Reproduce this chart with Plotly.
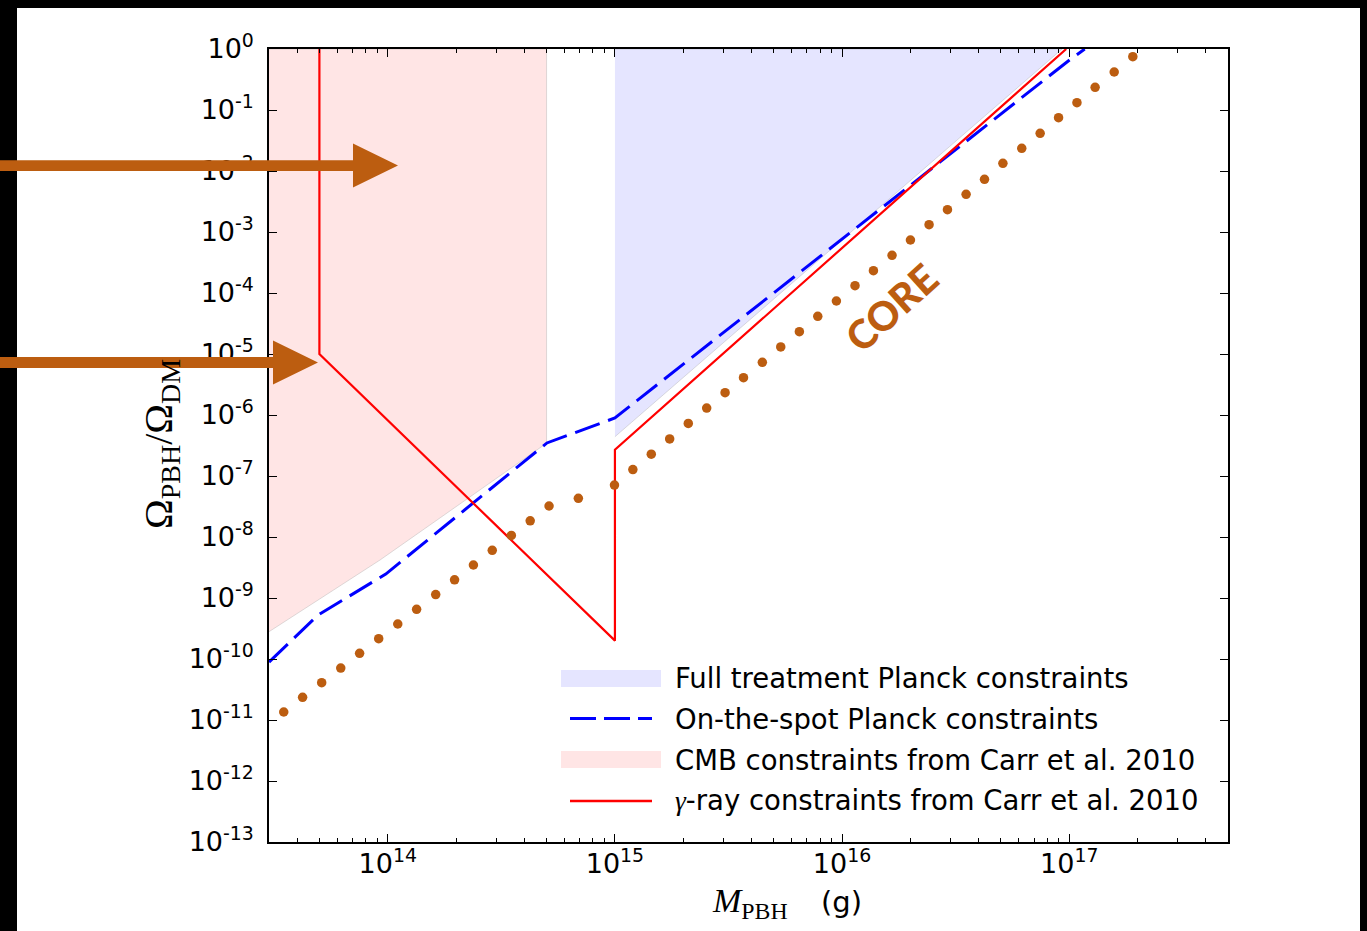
import plotly.graph_objects as go

# ---------------- data ----------------
# CMB constraints (Carr et al. 2010) - filled region (lower boundary, then top)
cmb_mass = [3.0e13, 9.25e13, 5.0e14, 5.0e14, 3.0e13]
cmb_omega = [2.8e-10, 4.2e-9, 3.45e-7, 1.0, 1.0]

# Full treatment Planck constraints - filled region
full_mass = [1.0e15, 9.3e16, 1.0e15]
full_omega = [4.4e-7, 1.0, 1.0]

# On-the-spot Planck constraints (dashed)
otsp_mass = [3.0e13, 4.93e13, 9.8e13, 5.02e14, 1.0e15, 9.9e16, 1.17e17]
otsp_omega = [8.9e-11, 5.26e-10, 2.47e-9, 3.48e-7, 8.93e-7, 0.636, 1.0]

# gamma-ray constraints (Carr et al. 2010)
gamma_mass = [5.0e13, 5.0e13, 1.0e15, 1.0e15, 9.7e16]
gamma_omega = [1.0, 1.0e-5, 2.0e-10, 2.7e-7, 1.0]

# CORE forecast (dotted), log10 values
core_log_mass = [13.542, 13.625, 13.709, 13.793, 13.876, 13.960, 14.044, 14.127,
                 14.211, 14.294, 14.377, 14.460, 14.544, 14.627, 14.710, 14.839,
                 14.998, 15.079, 15.160, 15.241, 15.323, 15.404, 15.485, 15.566,
                 15.649, 15.730, 15.812, 15.893, 15.975, 16.057, 16.138, 16.220,
                 16.301, 16.383, 16.464, 16.546, 16.627, 16.708, 16.791, 16.872,
                 16.953, 17.034, 17.114, 17.198, 17.280]
core_log_omega = [-10.869, -10.628, -10.389, -10.148, -9.907, -9.667, -9.426, -9.185,
                  -8.943, -8.702, -8.459, -8.218, -7.975, -7.734, -7.492, -7.366,
                  -7.148, -6.895, -6.643, -6.392, -6.139, -5.887, -5.634, -5.389,
                  -5.136, -4.885, -4.634, -4.382, -4.131, -3.880, -3.634, -3.382,
                  -3.131, -2.880, -2.634, -2.382, -2.136, -1.874, -1.628, -1.382,
                  -1.126, -0.880, -0.628, -0.377, -0.126]
core_mass = [10 ** v for v in core_log_mass]
core_omega = [10 ** v for v in core_log_omega]

x_tick_vals = [1e14, 1e15, 1e16, 1e17]
x_tick_text = ["10<sup>14</sup>", "10<sup>15</sup>", "10<sup>16</sup>", "10<sup>17</sup>"]
y_exponents = [0, -1, -2, -3, -4, -5, -6, -7, -8, -9, -10, -11, -12, -13]
y_tick_vals = [10.0 ** e for e in y_exponents]
y_tick_text = ["10<sup>%d</sup>" % e for e in y_exponents]

legend_labels = [
    "Full treatment Planck constraints",
    "On-the-spot Planck constraints",
    "CMB constraints from Carr et al. 2010",
    '<span style="font-family:Liberation Serif"><i>γ</i></span>-ray constraints from Carr et al. 2010',
]

# ---------------- styling / layout ----------------
W, H = 1367, 931
ML, MR, MT, MB = 269, 139, 49, 89
PW, PH = W - ML - MR, H - MT - MB

def xp(p):
    return (p - ML) / PW

def yp(p):
    return (H - MB - p) / PH

ORANGE = "#BC5D10"
BLUE_FILL = "rgba(0,0,255,0.10)"
RED_FILL = "rgba(255,0,0,0.10)"
EDGE = "rgba(160,160,160,0.35)"
TICK_FONT = dict(family="DejaVu Sans", size=27, color="black")

fig = go.Figure()
fig.add_trace(go.Scatter(x=cmb_mass, y=cmb_omega, fill="toself", fillcolor=RED_FILL,
                         mode="lines", line=dict(color=EDGE, width=1), hoverinfo="skip"))
fig.add_trace(go.Scatter(x=full_mass, y=full_omega, fill="toself", fillcolor=BLUE_FILL,
                         mode="lines", line=dict(color=EDGE, width=1), hoverinfo="skip"))
fig.add_trace(go.Scatter(x=otsp_mass, y=otsp_omega, mode="lines",
                         line=dict(color="#0000FF", width=3, dash="26px,9px")))
fig.add_trace(go.Scatter(x=gamma_mass, y=gamma_omega, mode="lines",
                         line=dict(color="#FF0000", width=2.2)))
fig.add_trace(go.Scatter(x=core_mass, y=core_omega, mode="markers",
                         marker=dict(color=ORANGE, size=9.5, line=dict(width=0))))

fig.update_layout(
    width=W, height=H, autosize=False,
    margin=dict(l=ML, r=MR, t=MT, b=MB),
    paper_bgcolor="white", plot_bgcolor="white",
    showlegend=False,
    xaxis=dict(type="log", range=[13.4771, 17.699], showgrid=False, zeroline=False,
               showline=True, linecolor="black", linewidth=1.5, mirror="ticks",
               ticks="inside", ticklen=8, tickwidth=1, tickcolor="black",
               tickmode="array", tickvals=x_tick_vals, ticktext=x_tick_text,
               tickfont=TICK_FONT, ticklabelstandoff=-3,
               minor=dict(dtick="D1", ticks="inside", ticklen=4, tickwidth=1,
                          tickcolor="black", showgrid=False)),
    yaxis=dict(type="log", range=[-13, 0], showgrid=False, zeroline=False,
               showline=True, linecolor="black", linewidth=1.5, mirror="ticks",
               ticks="inside", ticklen=8, tickwidth=1, tickcolor="black",
               tickmode="array", tickvals=y_tick_vals, ticktext=y_tick_text,
               tickfont=TICK_FONT, ticklabelstandoff=8),
)

shapes = []
# black frame around the picture
for x0, x1, y0, y1 in [(-2, xp(17), -2, 3), (xp(1360), 3, -2, 3), (-2, 3, yp(8), 3)]:
    shapes.append(dict(type="rect", xref="paper", yref="paper", x0=x0, x1=x1, y0=y0, y1=y1,
                       fillcolor="black", line=dict(width=0), layer="above"))

# orange arrows
def arrow_path(y_mid, half_shaft, base_x, tip_x, half_head):
    pts = [(-60, y_mid - half_shaft), (base_x, y_mid - half_shaft), (base_x, y_mid - half_head),
           (tip_x, y_mid), (base_x, y_mid + half_head), (base_x, y_mid + half_shaft),
           (-60, y_mid + half_shaft)]
    return "M " + " L ".join("%.5f,%.5f" % (xp(a), yp(b)) for a, b in pts) + " Z"

shapes.append(dict(type="path", xref="paper", yref="paper", path=arrow_path(165.6, 5.3, 353, 398, 22),
                   fillcolor=ORANGE, line=dict(width=0), layer="above"))
shapes.append(dict(type="path", xref="paper", yref="paper", path=arrow_path(362.6, 5.5, 273, 318, 22),
                   fillcolor=ORANGE, line=dict(width=0), layer="above"))

# manual legend symbols
shapes.append(dict(type="rect", xref="paper", yref="paper", x0=xp(561), x1=xp(661), y0=yp(687), y1=yp(670),
                   fillcolor=BLUE_FILL, line=dict(width=0)))
shapes.append(dict(type="line", xref="paper", yref="paper", x0=xp(570), x1=xp(652), y0=yp(718.5), y1=yp(718.5),
                   line=dict(color="#0000FF", width=3, dash="26px,8px")))
shapes.append(dict(type="rect", xref="paper", yref="paper", x0=xp(561), x1=xp(661), y0=yp(768), y1=yp(751),
                   fillcolor=RED_FILL, line=dict(width=0)))
shapes.append(dict(type="line", xref="paper", yref="paper", x0=xp(570), x1=xp(652), y0=yp(801), y1=yp(801),
                   line=dict(color="#FF0000", width=2.5)))
fig.update_layout(shapes=shapes)

annotations = []
for lab, yc in zip(legend_labels, [678, 719, 760, 800]):
    annotations.append(dict(text=lab, xref="paper", yref="paper", x=xp(673), y=yp(yc),
                            xanchor="left", yanchor="middle", showarrow=False,
                            font=dict(family="DejaVu Sans", size=27.5, color="black")))

annotations.append(dict(text="CORE", xref="paper", yref="paper", x=xp(891), y=yp(308),
                        xanchor="center", yanchor="middle", showarrow=False, textangle=-42,
                        font=dict(family="Lato", size=40, color=ORANGE, weight=900)))

annotations.append(dict(text='<i>M</i><sub>PBH</sub>',
                        xref="paper", yref="paper", x=xp(790), y=yp(903),
                        xanchor="right", yanchor="middle", showarrow=False,
                        font=dict(family="Liberation Serif", size=34, color="black")))
annotations.append(dict(text='(g)',
                        xref="paper", yref="paper", x=xp(819), y=yp(902),
                        xanchor="left", yanchor="middle", showarrow=False,
                        font=dict(family="DejaVu Sans", size=29, color="black")))
annotations.append(dict(text="Ω<sub>PBH</sub>/Ω<sub>DM</sub>",
                        xref="paper", yref="paper", x=xp(161), y=yp(444),
                        xanchor="center", yanchor="middle", showarrow=False, textangle=-90,
                        font=dict(family="Liberation Serif", size=40, color="black")))
fig.update_layout(annotations=annotations)

fig.write_html("out.html")
